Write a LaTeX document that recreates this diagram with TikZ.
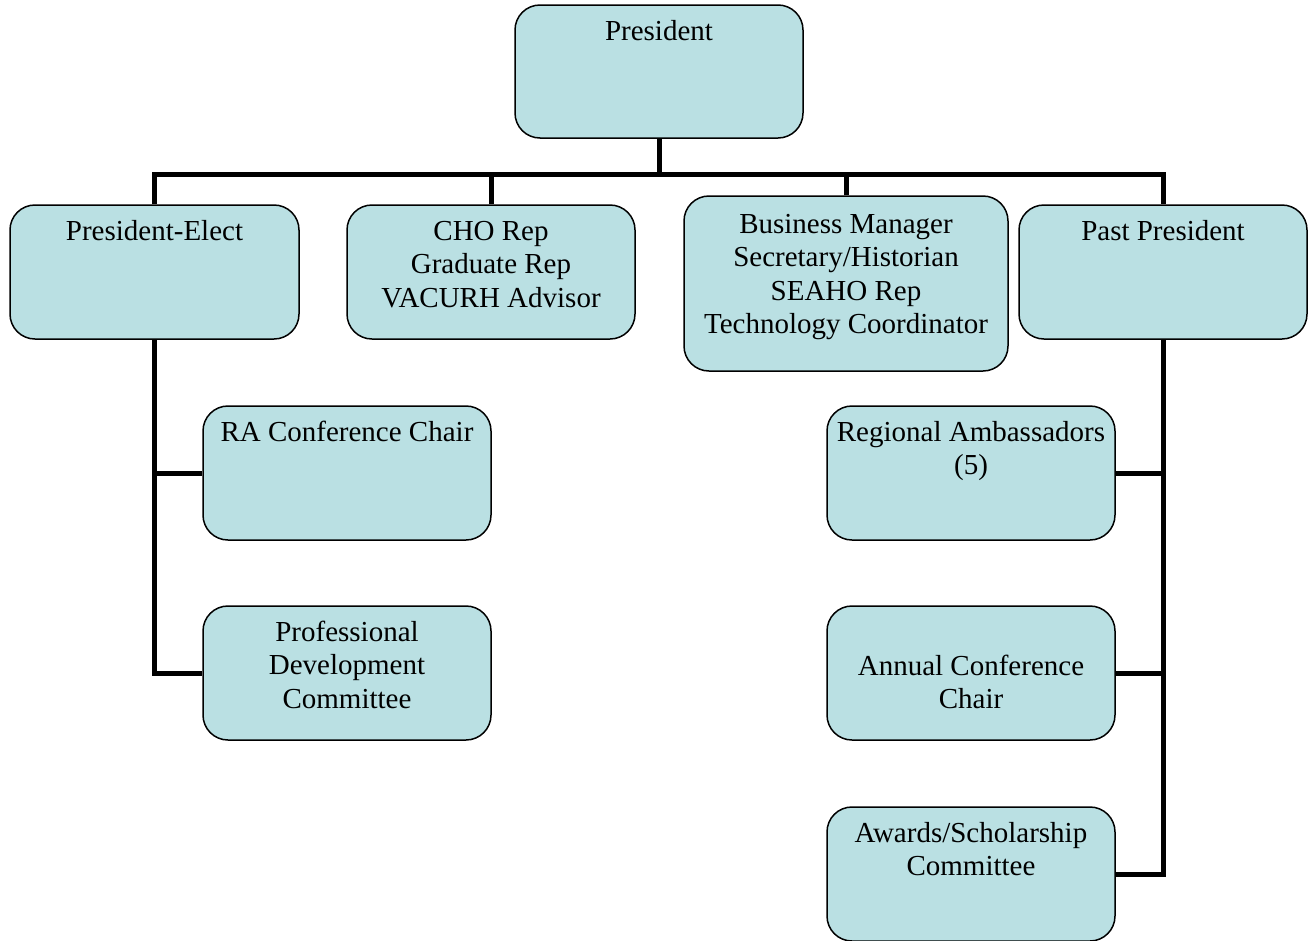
\documentclass[tikz,border=0pt]{standalone}
\usepackage{fontspec}
\setmainfont{Liberation Serif}
\definecolor{boxfill}{HTML}{BAE0E3}
\tikzset{
  box/.style={draw=black, line width=1.5pt, fill=boxfill, rounded corners=25pt, rectangle, inner sep=0pt},
  conn/.style={draw=black, line width=5pt},
  lbl/.style={anchor=base, inner sep=0pt}
}
\newcommand{\boxtext}[1]{\parbox[t]{330pt}{\centering\fontsize{29}{33.6}\selectfont #1}}
\begin{document}
\begin{tikzpicture}[x=1pt,y=-1pt]
\useasboundingbox (0,0) rectangle (1309,940);
% connectors first (behind boxes)
\coordinate (bus) at (659,174);
% boxes
\node[box, minimum width=288pt, minimum height=133pt] (pres) at (659,71.5) {};
\node[box, minimum width=289pt, minimum height=134pt] (pe) at (154.5,272) {};
\node[box, minimum width=288pt, minimum height=134pt] (cho) at (491,272) {};
\node[box, minimum width=324pt, minimum height=175pt] (bm) at (846,283.5) {};
\node[box, minimum width=288pt, minimum height=134pt] (pp) at (1163,272) {};
\node[box, minimum width=288pt, minimum height=134pt] (ra) at (347,473) {};
\node[box, minimum width=288pt, minimum height=134pt] (pd) at (347,673) {};
\node[box, minimum width=288pt, minimum height=134pt] (reg) at (971,473) {};
\node[box, minimum width=288pt, minimum height=134pt] (ann) at (971,673) {};
\node[box, minimum width=288pt, minimum height=134pt] (aw) at (971,874) {};
% connectors
\draw[conn] (pres.south) -- (bus);
\draw[conn] (pe.north) |- (bus) -| (pp.north);
\draw[conn] (cho.north) -- (cho.north |- bus);
\draw[conn] (bm.north) -- (bm.north |- bus);
\draw[conn] (pe.south) |- (pd.west);
\draw[conn] (ra.west) -- (ra.west -| pe.south);
\draw[conn] (pp.south) |- (aw.east);
\draw[conn] (reg.east) -- (reg.east -| pp.south);
\draw[conn] (ann.east) -- (ann.east -| pp.south);
% texts
\node[lbl] (t-pres) at (659,40) {\boxtext{President}};
\node[lbl] (t-pe) at (154.5,240) {\boxtext{President-Elect}};
\node[lbl] (t-cho) at (491,240) {\boxtext{CHO Rep\\Graduate Rep\\VACURH Advisor}};
\node[lbl] (t-bm) at (846,233) {\boxtext{Business Manager\\Secretary/Historian\\SEAHO Rep\\Technology Coordinator}};
\node[lbl] (t-pp) at (1163,240) {\boxtext{Past President}};
\node[lbl] (t-ra) at (347,441) {\boxtext{RA Conference Chair}};
\node[lbl] (t-pd) at (347,641) {\boxtext{Professional\\Development\\Committee}};
\node[lbl] (t-reg) at (971,441) {\boxtext{Regional Ambassadors\\(5)}};
\node[lbl] (t-ann) at (971,675) {\boxtext{Annual Conference\\Chair}};
\node[lbl] (t-aw) at (971,842) {\boxtext{Awards/Scholarship\\Committee}};
\end{tikzpicture}
\end{document}
